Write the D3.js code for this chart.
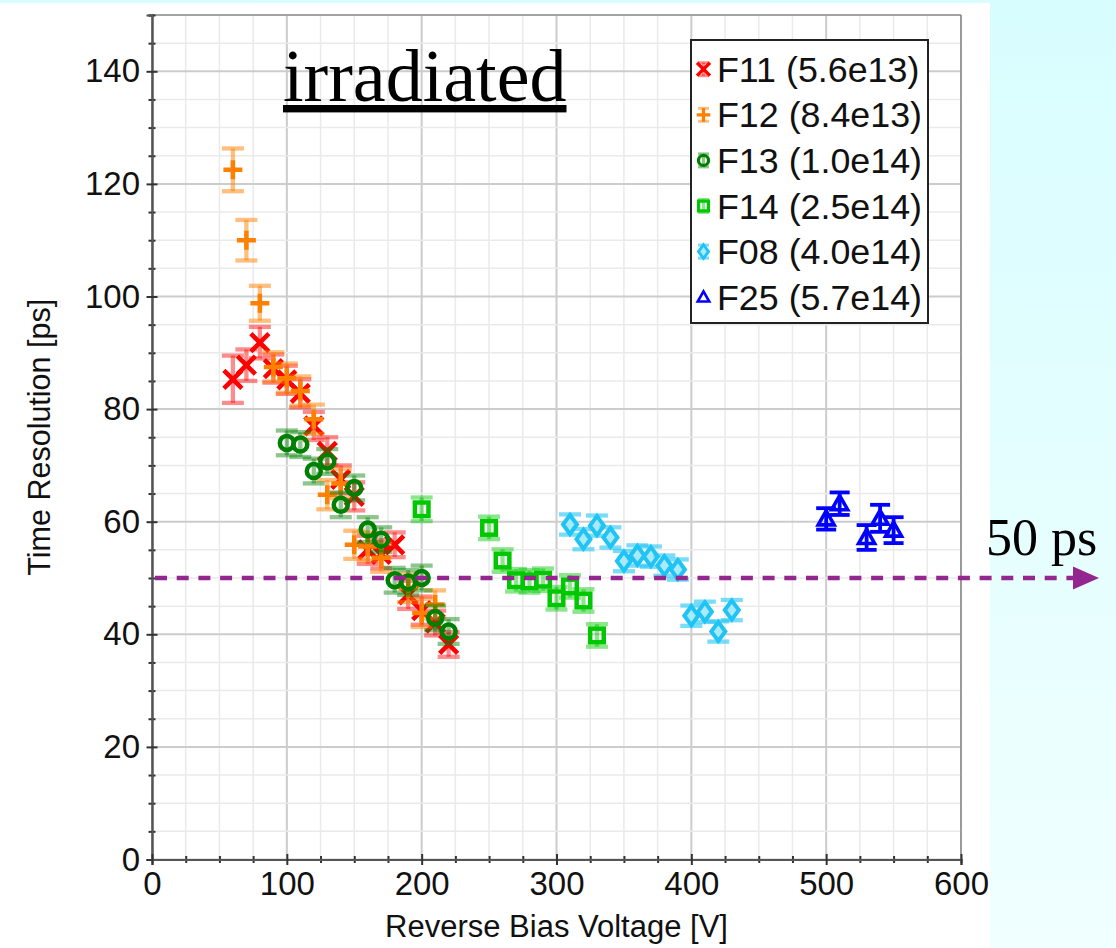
<!DOCTYPE html>
<html><head><meta charset="utf-8">
<script src="https://cdn.jsdelivr.net/npm/d3@7"></script>
<style>body{margin:0;background:#fff}svg{display:block}</style>
</head><body>
<svg id="c" width="1116" height="948"></svg>
<script>
// ---------------- data ----------------
const f11Voltage = [60,70,80,90,100,110,120,130,140,150,160,170,180,190,200,210,220];
const f11Res     = [85.3,87.8,91.8,87.2,85.2,82.8,77.0,72.5,67.5,64.5,55.0,54.2,55.9,47.0,44.2,42.0,38.2];
const f11Err     = [4.2,2.8,2.8,2.5,2.5,2.5,2.5,2.5,2.5,2.5,2.5,2.5,2.2,2.5,2.5,2.2,2.2];

const f12Voltage = [60,70,80,90,100,110,120,130,140,150,160,170,190,200,210];
const f12Res     = [122.5,110.0,98.8,87.5,85.5,83.2,78.2,64.8,66.8,55.9,55.6,53.6,48.2,43.8,45.3];
const f12Err     = [3.8,3.6,3.1,2.6,2.6,2.6,2.6,2.6,2.6,2.5,2.5,2.5,2.5,2.5,2.5];

const f13Voltage = [100,110,120,130,140,150,160,170,180,190,200,210,220];
const f13Res     = [74.0,73.7,69.0,70.7,63.0,66.0,58.6,56.8,49.6,49.2,50.0,42.9,40.5];
const f13Err     = [2.2,2.2,2.2,2.2,2.2,2.2,2.2,2.2,2.2,2.2,2.2,2.2,2.2];

const f14Voltage = [200,250,260,270,280,290,300,310,320,330];
const f14Res     = [62.2,58.9,53.1,49.6,49.4,49.7,46.4,48.5,46.0,39.8];
const f14Err     = [2.1,2.0,2.0,2.0,2.0,2.0,2.0,2.0,2.0,2.0];

const f08Voltage = [310,320,330,340,350,360,370,380,390,400,410,420,430];
const f08Res     = [59.5,56.9,59.3,57.2,53.0,54.0,53.8,52.2,51.5,43.3,44.0,40.5,44.3];
const f08Err     = [1.8,1.8,1.8,1.8,1.8,1.8,1.8,1.8,1.8,1.8,1.8,1.8,1.8];

const f25Voltage = [500,510,530,540,550];
const f25Res     = [60.5,63.2,57.2,60.6,58.5];
const f25Err     = [1.9,2.0,2.2,2.4,2.3];

const seriesNames = ["F11 (5.6e13)","F12 (8.4e13)","F13 (1.0e14)","F14 (2.5e14)","F08 (4.0e14)","F25 (5.7e14)"];
const xMajorTicks = [0,100,200,300,400,500,600];
const yMajorTicks = [0,20,40,60,80,100,120,140];
const referenceLevel = 50;
const referenceLabel = "50 ps";
const titleText = "irradiated";
const xTitle = "Reverse Bias Voltage [V]";
const yTitle = "Time Resolution [ps]";

// ---------------- layout ----------------
const svg = d3.select("#c");
const W = 1116, H = 948;
const L = 152, R = 961, T = 15, B = 859.5;
const x = d3.scaleLinear().domain([0,600]).range([L,R]);
const y = d3.scaleLinear().domain([0,150]).range([B,T]);
const SANS = "'Liberation Sans', Arial, sans-serif";
const SERIF = "'Liberation Serif', 'Times New Roman', serif";

// background
const defs = svg.append("defs");
const g1 = defs.append("linearGradient").attr("id","bg").attr("x1",0).attr("y1",0).attr("x2",0).attr("y2",1);
g1.append("stop").attr("offset","0%").attr("stop-color","#d8fdfe");
g1.append("stop").attr("offset","100%").attr("stop-color","#f0ffff");
svg.append("rect").attr("width",W).attr("height",H).attr("fill","url(#bg)");
svg.append("rect").attr("x",0).attr("y",3).attr("width",990).attr("height",H-3).attr("fill","#fff");

// grid
const xMinor = d3.range(0,601,25), yMinor = d3.range(0,151,5);
const grid = svg.append("g");
grid.selectAll(".vx").data(xMinor).join("line")
  .attr("x1",d=>x(d)).attr("x2",d=>x(d)).attr("y1",T).attr("y2",B)
  .attr("stroke",d=>d%100===0?"#cccccc":"#eaeaea").attr("stroke-width",d=>d%100===0?2:1.5);
grid.selectAll(".hy").data(yMinor).join("line")
  .attr("x1",L).attr("x2",R).attr("y1",d=>y(d)).attr("y2",d=>y(d))
  .attr("stroke",d=>d%20===0?"#cccccc":"#eaeaea").attr("stroke-width",d=>d%20===0?2:1.5);

// frame (top/right)
svg.append("line").attr("x1",L).attr("x2",R).attr("y1",T).attr("y2",T).attr("stroke","#8a8a8a").attr("stroke-width",1.5);
svg.append("line").attr("x1",R).attr("x2",R).attr("y1",T).attr("y2",B).attr("stroke","#8a8a8a").attr("stroke-width",1.5);

// axes
function styleAxis(g, orient, big){
  g.select(".domain").attr("stroke","#555").attr("stroke-width",2);
  const s = big?5.5:3.5;
  if(orient==="left") g.selectAll(".tick line").attr("x1",s).attr("x2",-s);
  else g.selectAll(".tick line").attr("y1",-s).attr("y2",s);
  g.selectAll(".tick line").attr("stroke","#333").attr("stroke-width",2);
  g.selectAll("text").attr("font-family",SANS).attr("font-size",33).attr("fill","#111");
}
const yMinorAxis = svg.append("g").attr("transform",`translate(${L},0)`)
  .call(d3.axisLeft(y).tickValues(yMinor.filter(d=>d%20!==0)).tickFormat("").tickSize(3.5));
styleAxis(yMinorAxis,"left",false);
const xMinorAxis = svg.append("g").attr("transform",`translate(0,${B})`)
  .call(d3.axisBottom(x).tickValues(xMinor.filter(d=>d%100!==0)).tickFormat("").tickSize(3.5));
styleAxis(xMinorAxis,"bottom",false);
const yAxis = svg.append("g").attr("transform",`translate(${L},0)`)
  .call(d3.axisLeft(y).tickValues(yMajorTicks).tickSize(5.5).tickPadding(6.5));
styleAxis(yAxis,"left",true);
const xAxis = svg.append("g").attr("transform",`translate(0,${B})`)
  .call(d3.axisBottom(x).tickValues(xMajorTicks).tickSize(5.5).tickPadding(6.5));
styleAxis(xAxis,"bottom",true);

// axis titles
svg.append("text").attr("x",(L+R)/2).attr("y",937).attr("text-anchor","middle")
  .attr("font-family",SANS).attr("font-size",31).attr("fill","#111").text(xTitle);
svg.append("text").attr("transform",`translate(50,${(T+B)/2}) rotate(-90)`).attr("text-anchor","middle")
  .attr("font-family",SANS).attr("font-size",30.5).attr("fill","#111").text(yTitle);

// ---------------- markers ----------------
const COLORS = ["#ff0000","#ff8000","#008000","#00c800","#20c4f4","#0000ff"];
const BAR = ["rgba(255,0,0,0.45)","rgba(255,128,0,0.5)","rgba(0,128,0,0.45)","rgba(0,200,0,0.45)","rgba(32,196,244,0.6)","#0000ff"];

function drawMarker(g, i, cx, cy, k){
  const c = COLORS[i];
  if(i===0){ const s=9*k;
    g.append("path").attr("d",`M${cx-s},${cy-s}L${cx+s},${cy+s}M${cx-s},${cy+s}L${cx+s},${cy-s}`)
      .attr("stroke",c).attr("stroke-width",4.6*k).attr("fill","none");
  } else if(i===1){ const s=9.5*k;
    g.append("path").attr("d",`M${cx-s},${cy}L${cx+s},${cy}M${cx},${cy-s}L${cx},${cy+s}`)
      .attr("stroke",c).attr("stroke-width",4.5*k).attr("fill","none");
  } else if(i===2){
    g.append("circle").attr("cx",cx).attr("cy",cy).attr("r",7*k)
      .attr("stroke",c).attr("stroke-width",4.5*k).attr("fill","none");
  } else if(i===3){ const s=6.8*k;
    g.append("rect").attr("x",cx-s).attr("y",cy-s).attr("width",2*s).attr("height",2*s)
      .attr("stroke",c).attr("stroke-width",4.5*k).attr("fill","none");
  } else if(i===4){ const w=7*k,h=9.5*k;
    g.append("path").attr("d",`M${cx},${cy-h}L${cx+w},${cy}L${cx},${cy+h}L${cx-w},${cy}Z`)
      .attr("stroke",c).attr("stroke-width",4*k).attr("fill","#a8e9fb");
  } else { const s=8*k;
    g.append("path").attr("d",`M${cx},${cy-s}L${cx+s},${cy+s*0.75}L${cx-s},${cy+s*0.75}Z`)
      .attr("stroke",c).attr("stroke-width",3.6*k).attr("fill","none");
  }
}
function drawErr(g, i, cx, ylo, yhi, cap, w){
  const c = BAR[i];
  g.append("line").attr("x1",cx).attr("x2",cx).attr("y1",ylo).attr("y2",yhi).attr("stroke",c).attr("stroke-width",w);
  g.append("line").attr("x1",cx-cap).attr("x2",cx+cap).attr("y1",ylo).attr("y2",ylo).attr("stroke",c).attr("stroke-width",w);
  g.append("line").attr("x1",cx-cap).attr("x2",cx+cap).attr("y1",yhi).attr("y2",yhi).attr("stroke",c).attr("stroke-width",w);
}

const series = [
  [f11Voltage,f11Res,f11Err],[f12Voltage,f12Res,f12Err],[f13Voltage,f13Res,f13Err],
  [f14Voltage,f14Res,f14Err],[f08Voltage,f08Res,f08Err],[f25Voltage,f25Res,f25Err]
];
const plot = svg.append("g");
series.forEach(([vx,vy,ve],i)=>{
  const g = plot.append("g");
  vx.forEach((v,j)=>{
    const cx = x(v), cy = y(vy[j]);
    drawErr(g,i,cx,y(vy[j]-ve[j]),y(vy[j]+ve[j]), i===5?10:11, i===5?3.8:4.3);
    drawMarker(g,i,cx,cy,1);
  });
});

// reference dashed line with arrow
svg.append("line").attr("x1",L+3).attr("x2",1076).attr("y1",y(referenceLevel)).attr("y2",y(referenceLevel))
  .attr("stroke","#93278f").attr("stroke-width",4.5).attr("stroke-dasharray","12,9.7");
svg.append("path").attr("d",`M1073,${y(referenceLevel)-11.5}L1099,${y(referenceLevel)}L1073,${y(referenceLevel)+11.5}Z`)
  .attr("fill","#93278f");
svg.append("text").attr("x",986).attr("y",555).attr("font-family",SERIF).attr("font-size",52)
  .attr("fill","#000").text(referenceLabel);

// title
svg.append("text").attr("x",283).attr("y",101).attr("font-family",SERIF).attr("font-size",74)
  .attr("fill","#000").attr("text-decoration","underline").text(titleText);

// legend
const lg = svg.append("g");
lg.append("rect").attr("x",691).attr("y",40).attr("width",237).attr("height",283)
  .attr("fill","#fff").attr("stroke","#222").attr("stroke-width",2);
seriesNames.forEach((n,i)=>{
  const base = 81.7 + i*45.6;
  const cy = base - 12.5;
  const cx = 703.5;
  const gg = lg.append("g");
  if(i<5) drawErr(gg,i,cx,cy-6.5,cy+6.5,5.5,3);
  drawMarker(gg,i,cx,cy,0.72);
  lg.append("text").attr("x",717).attr("y",base).attr("font-family",SANS).attr("font-size",35.8)
    .attr("fill","#111").text(n);
});
</script>
</body></html>
